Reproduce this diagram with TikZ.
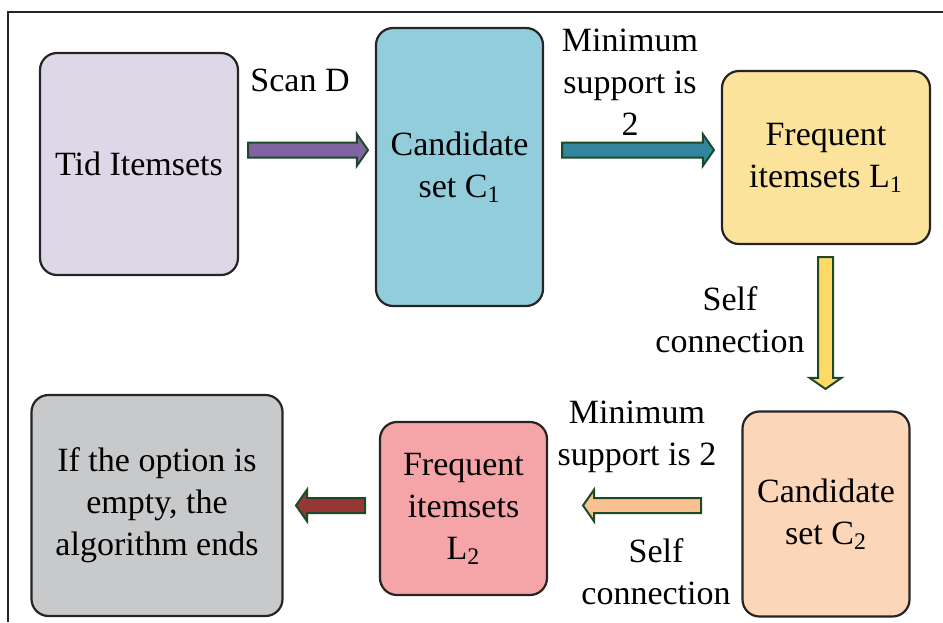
\documentclass[tikz,border=0pt]{standalone}
\usepackage{fontspec}
\setmainfont{Liberation Serif}
\usetikzlibrary{shapes.arrows,calc}

\definecolor{boxline}{HTML}{262425}
\definecolor{arrowline}{HTML}{1D4A26}
\definecolor{tidfill}{HTML}{DDD7E7}
\definecolor{candAfill}{HTML}{92CDDC}
\definecolor{freqAfill}{HTML}{FBE39B}
\definecolor{candBfill}{HTML}{FBD6B8}
\definecolor{freqBfill}{HTML}{F5A5A8}
\definecolor{stopfill}{HTML}{C8C9CB}
\definecolor{scanfill}{HTML}{8064A2}
\definecolor{supAfill}{HTML}{31859C}
\definecolor{joinAfill}{HTML}{FFD966}
\definecolor{joinBfill}{HTML}{FAC090}
\definecolor{endfill}{HTML}{953735}

% block arrow from one coordinate to another
\newcommand{\fatarrow}[3]{%
  \path let \p1=(#1), \p2=(#2),
        \n1={veclen(\x2-\x1,\y2-\y1)}, \n2={atan2(\y2-\y1,\x2-\x1)} in
    node[fat, fill=#3, minimum height=\n1, rotate=\n2, anchor=tail] at (\p1) {};
}

\begin{document}
\begin{tikzpicture}[x=0.5pt, y=-0.5pt,
    box/.style={draw=boxline, line width=1.1pt, rounded corners=8.5pt, align=center,
                inner sep=0pt, font=\fontsize{17}{21}\selectfont},
    lbl/.style={align=center, inner sep=0pt, font=\fontsize{17}{21}\selectfont},
    fat/.style={single arrow, draw=arrowline, line width=1pt, inner xsep=0pt, inner ysep=3.25pt,
                single arrow head extend=4.25pt, single arrow tip angle=110,
                single arrow head indent=0pt}
  ]
    \useasboundingbox (0,0) rectangle (943,622);
    \draw[boxline, line width=0.6pt] (8,622) -- (8,12) -- (943,12);

    % top row
    \node[box, fill=tidfill, minimum width=99pt, minimum height=111pt] (tid) at (139,164) {Tid Itemsets};
    \node[box, fill=candAfill, minimum width=83.5pt, minimum height=139pt] (cand1) at (459.5,167) {Candidate\\set C\textsubscript{1}};
    \node[box, fill=freqAfill, minimum width=104pt, minimum height=86.5pt] (freq1) at (826,157.5) {Frequent\\itemsets L\textsubscript{1}};

    % bottom row
    \node[box, fill=candBfill, minimum width=83.5pt, minimum height=102.5pt] (cand2) at (826,514) {Candidate\\set C\textsubscript{2}};
    \node[box, fill=freqBfill, minimum width=83.5pt, minimum height=86.5pt] (freq2) at (463.5,508.5) {Frequent\\itemsets\\L\textsubscript{2}};
    \node[box, fill=stopfill, minimum width=125.5pt, minimum height=110.5pt] (stop) at (157,505.5) {If the option is\\empty, the\\algorithm ends};

    % labels
    \node[lbl] (scan) at (300,80) {Scan D};
    \node[lbl] (minsup1) at (630,82) {Minimum\\support is\\2};
    \node[lbl] (self1) at (730,320) {Self\\connection};
    \node[lbl] (minsup2) at (637,437) {Minimum\\support is 2};
    \node[lbl] (self2) at (656,572) {Self\\connection};

    % arrow ends
    \coordinate (a1s) at (247,150);  \coordinate (a1e) at (367,150);
    \coordinate (a2s) at (561,150);  \coordinate (a2e) at (713,150);
    \coordinate (a3s) at (825.5,256); \coordinate (a3e) at (825.5,388);
    \coordinate (a4s) at (702,505.5); \coordinate (a4e) at (584,505.5);
    \coordinate (a5s) at (366,505.5); \coordinate (a5e) at (297,505.5);

    \fatarrow{a1s}{a1e}{scanfill}
    \fatarrow{a2s}{a2e}{supAfill}
    \fatarrow{a3s}{a3e}{joinAfill}
    \fatarrow{a4s}{a4e}{joinBfill}
    \fatarrow{a5s}{a5e}{endfill}

\end{tikzpicture}
\end{document}
